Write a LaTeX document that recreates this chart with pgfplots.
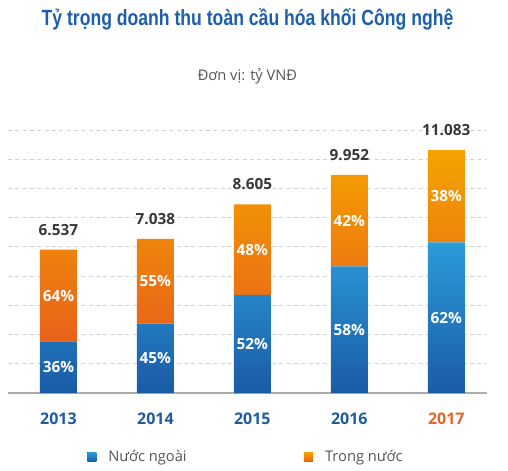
\documentclass[border=0pt]{standalone}
\usepackage{pgfplots}
\pgfplotsset{compat=1.18}
\usepackage{fontspec}
\setmainfont{Open Sans}
\newfontfamily\titlefont[FakeStretch=0.8]{Liberation Sans}
\definecolor{titleblue}{HTML}{1F5FA8}
\definecolor{yearblue}{HTML}{1F5B9E}
\definecolor{yearorange}{HTML}{E5652A}
\definecolor{bluetop}{HTML}{2B9BD9}
\definecolor{bluebot}{HTML}{1A5BA6}
\definecolor{orgtop}{HTML}{F5A300}
\definecolor{orgbot}{HTML}{E8621A}
\definecolor{txtgray}{HTML}{555555}
\definecolor{valgray}{HTML}{383838}
\begin{document}
\begin{tikzpicture}
\useasboundingbox (0pt,0pt) rectangle (381pt,-353.25pt);
\node[anchor=base, font=\titlefont\bfseries\fontsize{16.5}{18}\selectfont, text=titleblue] at (185.6pt,-19pt) {Tỷ trọng doanh thu toàn cầu hóa khối Công nghệ};
\node[anchor=base, font=\fontsize{11}{13}\selectfont, text=txtgray] at (185.6pt,-60pt) {Đơn vị: tỷ VNĐ};
\pgfplotsset{myaxis/.style={
  at={(6pt,-294.75pt)}, anchor=south west, scale only axis,
  width=359.25pt, height=197.25pt,
  xmin=-0.52, xmax=4.42, ymin=0, ymax=12000, clip=false,
  scaled y ticks=false,
}}
\begin{axis}[myaxis, ybar stacked, bar width=27.75pt,
  axis x line*=bottom, axis y line*=left,
  y axis line style={draw=none},
  x axis line style={color=gray!65, line width=1.1pt},
  ytick={1333.3,2666.7,4000,5333.3,6666.7,8000,9333.3,10666.7,12000},
  yticklabels={}, major tick length=0pt,
  ymajorgrids, grid style={color=gray!35, line width=0.6pt, dash pattern=on 3pt off 2.5pt},
  xtick={0,1,2,3,4},
  xticklabels={\textcolor{yearblue}{2013},\textcolor{yearblue}{2014},\textcolor{yearblue}{2015},\textcolor{yearblue}{2016},\textcolor{yearorange}{2017}},
  xtick style={draw=none},
  xticklabel style={font=\bfseries\fontsize{12}{14}\selectfont, yshift=-11.5pt},
  legend image code/.code={\fill[#1] (0pt,-3.4pt) rectangle (6.8pt,3.4pt);},
  legend style={at={(0.165,-0.243)}, anchor=west, legend columns=2, draw=none, fill=none, inner sep=0pt,
    font=\fontsize{11}{13}\selectfont\color{txtgray},
    /tikz/every odd column/.append style={column sep=7pt},
    /tikz/every even column/.append style={column sep=86pt}},
]
\addplot[draw=none, top color=bluetop, bottom color=bluebot] coordinates {(0,2353) (1,3167) (2,4475) (3,5772) (4,6871)};
\addplot[draw=none, top color=orgtop, bottom color=orgbot] coordinates {(0,4184) (1,3871) (2,4130) (3,4180) (4,4212)};
\legend{Nước ngoài, Trong nước}
\end{axis}
\begin{axis}[myaxis, hide axis]
\addplot[only marks, mark=*, mark size=0pt, mark options={draw=none, fill=none},
  point meta=explicit symbolic, nodes near coords,
  nodes near coords style={anchor=center, text=white, font=\bfseries\fontsize{11.5}{13}\selectfont}]
  coordinates {(0,1177)[36\%] (1,1584)[45\%] (2,2237)[52\%] (3,2886)[58\%] (4,3436)[62\%]
               (0,4445)[64\%] (1,5103)[55\%] (2,6540)[48\%] (3,7862)[42\%] (4,8977)[38\%]};
\addplot[only marks, mark=*, mark size=0pt, mark options={draw=none, fill=none},
  point meta=explicit symbolic, nodes near coords,
  nodes near coords style={anchor=base, yshift=11pt, inner sep=0pt, text=valgray, font=\bfseries\fontsize{11.5}{13}\selectfont}]
  coordinates {(0,6537)[6.537] (1,7038)[7.038] (2,8605)[8.605] (3,9952)[9.952] (4,11083)[11.083]};
\end{axis}
\end{tikzpicture}
\end{document}
